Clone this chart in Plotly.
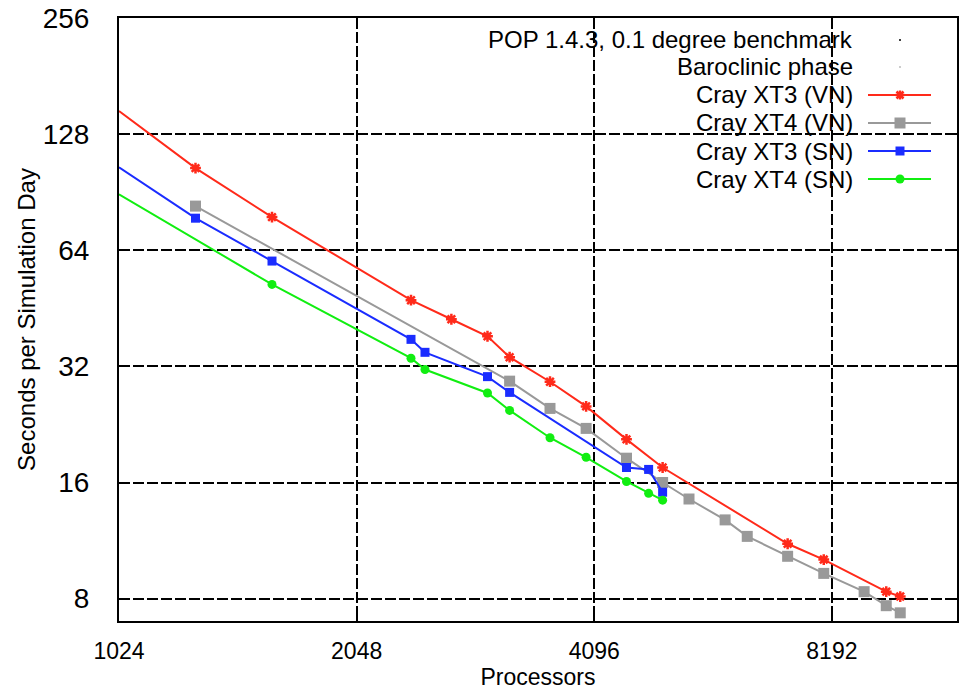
import plotly.graph_objects as go

# ---- data ----
xt3_vn_procs = [1024, 1280, 1600, 2400, 2700, 3000, 3200, 3600, 4000, 4500, 5000, 7200, 8000, 9600, 10000]
xt3_vn_secs = [147, 104.5, 78, 47.5, 42.4, 38.3, 33.8, 29.2, 25.2, 20.7, 17.5, 11.1, 10.1, 8.34, 8.1]

xt4_vn_procs = [1280, 3200, 3600, 4000, 4500, 5000, 5400, 6000, 6400, 7200, 8000, 9000, 9600, 10000]
xt4_vn_secs = [83.3, 29.3, 24.9, 22.1, 18.5, 16.0, 14.5, 12.8, 11.6, 10.3, 9.3, 8.34, 7.67, 7.35]

xt3_sn_procs = [1024, 1280, 1600, 2400, 2500, 3000, 3200, 4500, 4800, 5000]
xt3_sn_secs = [105, 77.5, 60, 37.6, 34.8, 30.1, 27.4, 17.5, 17.3, 15.1]

xt4_sn_procs = [1024, 1600, 2400, 2500, 3000, 3200, 3600, 4000, 4500, 4800, 5000]
xt4_sn_secs = [89.4, 52.2, 33.6, 31.4, 27.3, 24.6, 20.9, 18.6, 16.1, 15.0, 14.4]

series_names = ["Cray XT3 (VN)", "Cray XT4 (VN)", "Cray XT3 (SN)", "Cray XT4 (SN)"]
title_lines = ["POP 1.4.3, 0.1 degree benchmark", "Baroclinic phase"]

x_ticks = [1024, 2048, 4096, 8192]
y_ticks = [8, 16, 32, 64, 128, 256]

# ---- styles ----
RED, GRAY, BLUE, GREEN = "#ff2a1a", "#999999", "#1a2cff", "#11ee11"
FONT = "Liberation Sans, Arial, sans-serif"
NARROW = "Liberation Sans Narrow, Arial Narrow, Liberation Sans, sans-serif"

series = [
    (xt3_vn_procs, xt3_vn_secs, RED, dict(symbol="asterisk-open", size=9, line=dict(color=RED, width=2.5))),
    (xt4_vn_procs, xt4_vn_secs, GRAY, dict(symbol="square", size=11, color=GRAY)),
    (xt3_sn_procs, xt3_sn_secs, BLUE, dict(symbol="square", size=9, color=BLUE)),
    (xt4_sn_procs, xt4_sn_secs, GREEN, dict(symbol="circle", size=9, color=GREEN)),
]

fig = go.Figure()
for (xs, ys, col, mk), name in zip(series, series_names):
    fig.add_trace(go.Scatter(x=xs, y=ys, mode="lines+markers", name=name,
                             line=dict(color=col, width=2), marker=mk,
                             showlegend=False, cliponaxis=False))

# plot-area pixel geometry (for the hand-drawn gnuplot-style key)
L, R, T, B = 119, 957, 18, 621
def px(x):
    return (x - L) / (R - L)
def py(y):
    return (B - y) / (B - T)

shapes = []
annotations = []
# opaque key box (covers the grid, below the traces)
shapes.append(dict(type="rect", xref="paper", yref="paper", x0=px(425), x1=1, y0=py(194), y1=1,
                   fillcolor="white", line=dict(width=0), layer="between"))

rows = [40, 67, 95, 123, 151, 179]
text_right = 855
line_x0, line_x1, mark_x = 868, 931, 900
KEY_SIZE = 24

for i, t in enumerate(title_lines):
    annotations.append(dict(x=px(text_right), y=py(rows[i]), xref="paper", yref="paper",
                            text=t, showarrow=False, xanchor="right", yanchor="middle",
                            font=dict(family=FONT, size=KEY_SIZE, color="black")))
    dcol = "black" if i == 0 else "#bbbbbb"
    shapes.append(dict(type="circle", xref="paper", yref="paper", xsizemode="pixel", ysizemode="pixel",
                       xanchor=px(mark_x), yanchor=py(rows[i]), x0=-1, x1=1, y0=-1, y1=1,
                       fillcolor=dcol, line=dict(width=0)))

for j, ((xs, ys, col, mk), name) in enumerate(zip(series, series_names)):
    r = rows[j + 2]
    annotations.append(dict(x=px(text_right), y=py(r), xref="paper", yref="paper",
                            text=name, showarrow=False, xanchor="right", yanchor="middle",
                            font=dict(family=FONT, size=KEY_SIZE, color="black")))
    shapes.append(dict(type="line", xref="paper", yref="paper", x0=px(line_x0), x1=px(line_x1),
                       y0=py(r), y1=py(r), line=dict(color=col, width=2)))
    common = dict(xref="paper", yref="paper", xsizemode="pixel", ysizemode="pixel",
                  xanchor=px(mark_x), yanchor=py(r))
    if j == 0:
        for (a, b, c, d) in [(-4.5, 4.5, 0, 0), (0, 0, -4.5, 4.5), (-3.5, 3.5, -3.5, 3.5), (-3.5, 3.5, 3.5, -3.5)]:
            shapes.append(dict(type="line", x0=a, x1=b, y0=c, y1=d, line=dict(color=col, width=2.5), **common))
    elif j in (1, 2):
        h = 5.5 if j == 1 else 4.5
        shapes.append(dict(type="rect", x0=-h, x1=h, y0=-h, y1=h, fillcolor=col, line=dict(width=0), **common))
    else:
        shapes.append(dict(type="circle", x0=-4.5, x1=4.5, y0=-4.5, y1=4.5, fillcolor=col, line=dict(width=0), **common))

axis_common = dict(type="log", showline=True, linecolor="black", linewidth=2, mirror="ticks",
                   ticks="inside", ticklen=8, tickwidth=1.5, tickcolor="black",
                   showgrid=True, gridcolor="black", gridwidth=1.5, griddash="11px,3px",
                   zeroline=False, minor=dict(showgrid=False, ticks=""), automargin=False)

fig.update_xaxes(range=[3.010300, 4.0719], tickvals=x_ticks, ticktext=[str(v) for v in x_ticks],
                 tickfont=dict(family=NARROW, size=23, color="black"), ticklabelstandoff=8,
                 title=dict(text="Processors", font=dict(family=NARROW, size=23, color="black"), standoff=6),
                 **axis_common)
fig.update_yaxes(range=[0.845098, 2.408240], tickvals=y_ticks, ticktext=[str(v) for v in y_ticks],
                 tickfont=dict(family=FONT, size=28, color="black"), ticklabelstandoff=22,
                 title=dict(text="Seconds per Simulation Day", font=dict(family=FONT, size=24, color="black"),
                            standoff=0),
                 **axis_common)

fig.update_layout(width=960, height=691, margin=dict(l=L, r=960 - R, t=T, b=691 - B),
                  paper_bgcolor="white", plot_bgcolor="white", showlegend=False,
                  shapes=shapes, annotations=annotations)

fig.write_html("out.html", post_script="document.body.style.margin='0';",
               config={"displayModeBar": False})
